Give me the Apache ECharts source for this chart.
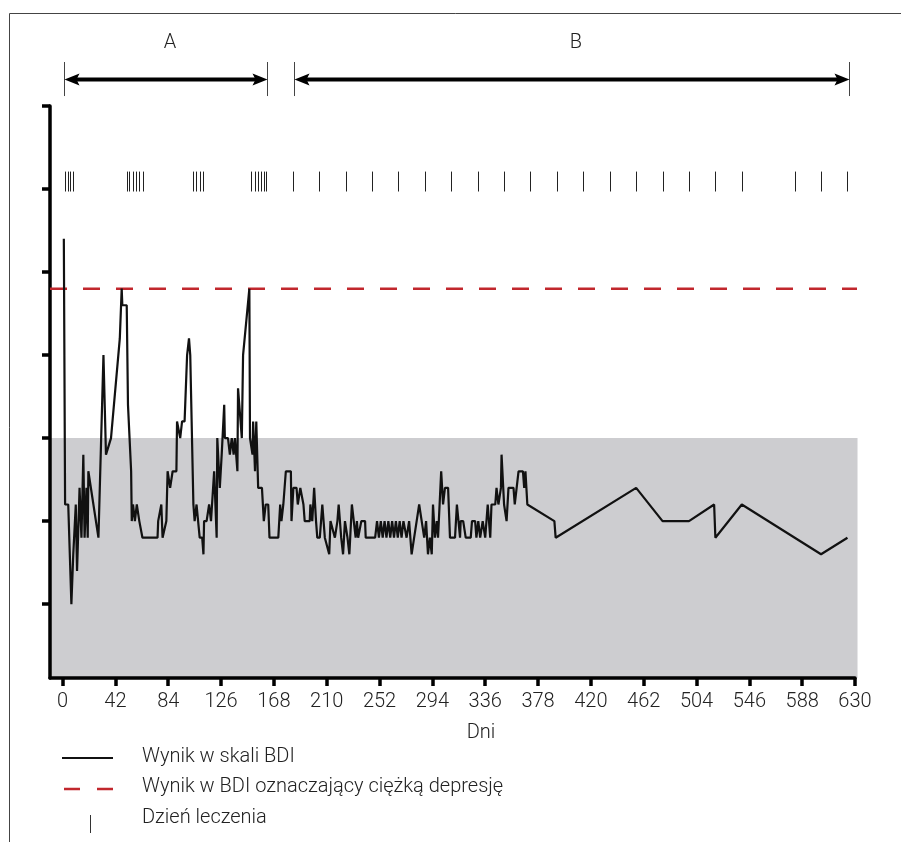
<!DOCTYPE html>
<html>
<head>
<meta charset="utf-8">
<script src="https://cdn.jsdelivr.net/npm/echarts@6/dist/echarts.min.js"></script>
<style>
html, body { margin: 0; padding: 0; background: #fff; }
#wykres { width: 901px; height: 842px; }
</style>
</head>
<body>
<div id="wykres"></div>
<script>
// dni pomiaru i wynik BDI
const dniPomiaru = [
  1, 2, 4.5, 7, 8.5, 10, 10.5, 11.5, 13.5, 15, 16.5, 17.5, 19, 20, 20.5, 28.5, 32.5, 34.5, 38.5, 45.5,
  47, 47.5, 51, 52, 54.5, 55, 56, 57.5, 59, 61, 63.5, 75.5, 76, 78.5, 79.5, 82.5, 83.5, 85.5, 87.5, 90.5,
  91, 93.5, 95, 97, 97.5, 98.5, 99, 100.5, 101.5, 103, 104, 105, 106.5, 109, 111, 112, 112.5, 114.5, 116.5, 118,
  120.5, 122.5, 123, 125, 126.5, 128.5, 129, 131.5, 133, 134.5, 136, 137, 139, 139.5, 142.5, 143.5, 145, 148.5, 149, 151,
  151.5, 153, 154, 155.5, 158.5, 160, 161.5, 163.5, 164.5, 166.5, 171.5, 173, 174, 175.5, 177, 177.5, 181.5, 182, 183.5, 186,
  187, 189, 191.5, 192.5, 196.5, 197, 198.5, 200, 201.5, 202.5, 204.5, 206.5, 208.5, 210, 212, 213, 216.5, 218.5, 219.5, 221.5,
  223, 224.5, 226.5, 228, 230, 231, 233, 234, 235, 237.5, 240.5, 241, 248.5, 250, 251.5, 253, 254.5, 256, 257.5, 259,
  260.5, 262, 263.5, 265, 266.5, 268, 269.5, 271, 273.5, 275.5, 277.5, 279.5, 281.5, 283.5, 285.5, 287.5, 289, 290.5, 292, 293.5,
  294.5, 296, 297.5, 298.5, 301, 302.5, 304, 306.5, 308, 312, 313.5, 316, 316.5, 318.5, 320.5, 324.5, 325.5, 328, 329, 330.5,
  332, 334, 336, 338, 340, 341, 344, 345, 346.5, 348.5, 349, 351, 353, 354.5, 358.5, 359.5, 362.5, 366, 367, 368,
  369.5, 391, 392, 456, 477, 498, 518, 519, 540, 603, 624
];
const wynikBDI = [
  27, 11, 11, 5, 8, 8, 11, 7, 12, 9, 14, 9, 12, 9, 13, 9, 20, 14, 15, 21,
  24, 23, 23, 17, 13, 10, 11, 10, 11, 10, 9, 9, 10, 11, 9, 10, 13, 12, 13, 13,
  16, 15, 16, 16, 17, 17, 20, 21, 20, 20, 11, 10, 11, 9, 9, 8, 10, 10, 11, 10,
  13, 9, 15, 12, 14, 17, 15, 15, 14, 15, 14, 15, 13, 18, 15, 20, 20, 24, 15, 14,
  16, 13, 16, 12, 12, 10, 11, 11, 9, 9, 9, 11, 10, 11, 11, 13, 13, 10, 12, 12,
  11, 12, 11, 10, 10, 11, 10, 12, 10, 9, 9, 11, 9, 9, 8, 10, 9, 10, 11, 9,
  8, 10, 9, 8, 11, 11, 9, 10, 9, 10, 10, 9, 9, 10, 9, 10, 9, 10, 9, 10,
  9, 10, 9, 10, 9, 10, 9, 10, 9, 10, 8, 9, 10, 11, 10, 9, 10, 8, 9, 8,
  11, 9, 10, 9, 13, 11, 12, 12, 9, 9, 11, 9, 10, 10, 9, 9, 10, 10, 9, 10,
  9, 10, 9, 11, 9, 11, 11, 12, 11, 12, 14, 11, 10, 12, 12, 11, 13, 13, 12, 13,
  11, 10, 9, 12, 10, 10, 11, 9, 11, 8, 9
];
// dni leczenia
const dniLeczenia = [
  2, 4, 6, 8, 51, 53, 56, 58, 61, 64, 104, 106, 109, 112, 150, 153, 155, 158, 160, 162,
  183, 204, 225, 246, 267, 288, 309, 330, 351, 372, 393, 414, 435, 456, 477, 498, 519, 540, 582, 603, 624
];
const progCiezkiejDepresji = 24;
const gornaGranicaPasma = 15;
const okresyPoczatek = [1, 184];
const okresyKoniec = [162.5, 625];
const okresyNazwy = ['A', 'B'];
const dniEtykiety = [0, 42, 84, 126, 168, 210, 252, 294, 336, 378, 420, 462, 504, 546, 588, 630];
const bdiPodzialka = [5, 10, 15, 20, 25, 30, 35];

const X_MIN = -10, X_MAX = 630, Y_MIN = 0.55, Y_MAX = 35;
const FONT = 'Roboto, "Liberation Sans", Arial, sans-serif';
const FS = 20;

var chart = echarts.init(document.querySelector('#wykres'));

var linia = dniPomiaru.map(function (d, i) { return [d, wynikBDI[i]]; });

chart.setOption({
  animation: false,
  grid: { left: 50, right: 46, top: 106, bottom: 164 },
  xAxis: {
    type: 'value', min: X_MIN, max: X_MAX,
    axisLine: { onZero: false, lineStyle: { color: '#000', width: 3.5 } },
    axisTick: { show: true, customValues: dniEtykiety, length: 8, lineStyle: { color: '#000', width: 3.5 } },
    axisLabel: { customValues: dniEtykiety, fontSize: FS, color: '#222', margin: 14, fontFamily: FONT, fontWeight: 300 },
    splitLine: { show: false }
  },
  yAxis: {
    type: 'value', min: Y_MIN, max: Y_MAX,
    axisLine: { show: true, onZero: false, lineStyle: { color: '#000', width: 3.5 } },
    axisTick: { show: true, customValues: bdiPodzialka, length: 8, lineStyle: { color: '#000', width: 3.5 } },
    axisLabel: { show: false },
    splitLine: { show: false }
  },
  series: [
    {
      // szare pasmo
      type: 'custom', z: 0, silent: true, clip: false,
      data: [[X_MIN, X_MAX + 2]],
      renderItem: function (params, api) {
        var p1 = api.coord([api.value(0), gornaGranicaPasma]);
        var p2 = api.coord([api.value(1), Y_MIN]);
        return { type: 'rect', shape: { x: p1[0], y: p1[1], width: p2[0] - p1[0], height: p2[1] - p1[1] }, style: { fill: '#cdcdd0' } };
      }
    },
    {
      name: 'Wynik w BDI oznaczający ciężką depresję',
      type: 'line', z: 2, clip: false, silent: true, symbol: 'none',
      data: [[X_MIN, progCiezkiejDepresji], [X_MAX + 8, progCiezkiejDepresji]],
      lineStyle: { color: '#c1272d', width: 2.5, type: [17, 16] }
    },
    {
      name: 'Wynik w skali BDI',
      type: 'line', z: 3, symbol: 'none',
      data: linia,
      lineStyle: { color: '#111', width: 2.2 }
    },
    {
      name: 'Dzień leczenia',
      type: 'custom', z: 3, clip: false, silent: true,
      data: dniLeczenia.map(function (d) { return [d]; }),
      renderItem: function (params, api) {
        var a = api.coord([api.value(0), 29.85]);
        var b = api.coord([api.value(0), 31.05]);
        var x = Math.round(a[0]) + 0.5;
        return { type: 'line', shape: { x1: x, y1: a[1], x2: x, y2: b[1] }, style: { stroke: '#222', lineWidth: 1 } };
      }
    },
    {
      // okresy A i B
      type: 'custom', z: 3, clip: false, silent: true,
      data: okresyPoczatek.map(function (d, i) { return [d, okresyKoniec[i]]; }),
      renderItem: function (params, api) {
        var a = api.coord([api.value(0), 36.6]);
        var b = api.coord([api.value(1), 36.6]);
        var y = a[1];
        var g = api.coord([0, 37.65])[1], h = api.coord([0, 35.6])[1];
        var t = api.coord([0, 38.8])[1];
        var x1 = Math.round(a[0]) + 0.5, x2 = Math.round(b[0]) + 0.5;
        return {
          type: 'group',
          children: [
            { type: 'line', shape: { x1: x1, y1: g, x2: x1, y2: h }, style: { stroke: '#444', lineWidth: 1 } },
            { type: 'line', shape: { x1: x2, y1: g, x2: x2, y2: h }, style: { stroke: '#444', lineWidth: 1 } },
            { type: 'line', shape: { x1: x1 + 10, y1: y, x2: x2 - 10, y2: y }, style: { stroke: '#000', lineWidth: 4 } },
            { type: 'polygon', shape: { points: [[x1, y], [x1 + 15, y - 6], [x1 + 12, y], [x1 + 15, y + 6]] }, style: { fill: '#000' } },
            { type: 'polygon', shape: { points: [[x2, y], [x2 - 15, y - 6], [x2 - 12, y], [x2 - 15, y + 6]] }, style: { fill: '#000' } },
            { type: 'text', x: (x1 + x2) / 2 + 4, y: t, style: { text: okresyNazwy[params.dataIndex], fontSize: FS, fontFamily: FONT, fontWeight: 300, fill: '#222', align: 'center', verticalAlign: 'middle' } }
          ]
        };
      }
    }
  ],
  graphic: [
    { type: 'polyline', shape: { points: [[9.5, 842], [9.5, 13.5], [901, 13.5]] }, style: { stroke: '#444', lineWidth: 1, fill: null } },
    { type: 'text', x: 481, y: 733, style: { text: 'Dni', fontSize: FS, fontFamily: FONT, fontWeight: 300, fill: '#222', align: 'center', verticalAlign: 'middle' } },
    // legenda
    { type: 'line', shape: { x1: 62, y1: 758, x2: 113, y2: 758 }, style: { stroke: '#111', lineWidth: 2 } },
    { type: 'text', x: 142, y: 757, style: { text: 'Wynik w skali BDI', fontSize: FS, fontFamily: FONT, fontWeight: 300, fill: '#222', verticalAlign: 'middle' } },
    { type: 'line', shape: { x1: 64, y1: 789, x2: 113, y2: 789 }, style: { stroke: '#c1272d', lineWidth: 2.5, lineDash: [16, 17] } },
    { type: 'text', x: 142, y: 787, style: { text: 'Wynik w BDI oznaczający ciężką depresję', fontSize: FS, fontFamily: FONT, fontWeight: 300, fill: '#222', verticalAlign: 'middle' } },
    { type: 'line', shape: { x1: 90.5, y1: 815, x2: 90.5, y2: 833 }, style: { stroke: '#333', lineWidth: 1 } },
    { type: 'text', x: 142, y: 818, style: { text: 'Dzień leczenia', fontSize: FS, fontFamily: FONT, fontWeight: 300, fill: '#222', verticalAlign: 'middle' } }
  ]
});
</script>
</body>
</html>
